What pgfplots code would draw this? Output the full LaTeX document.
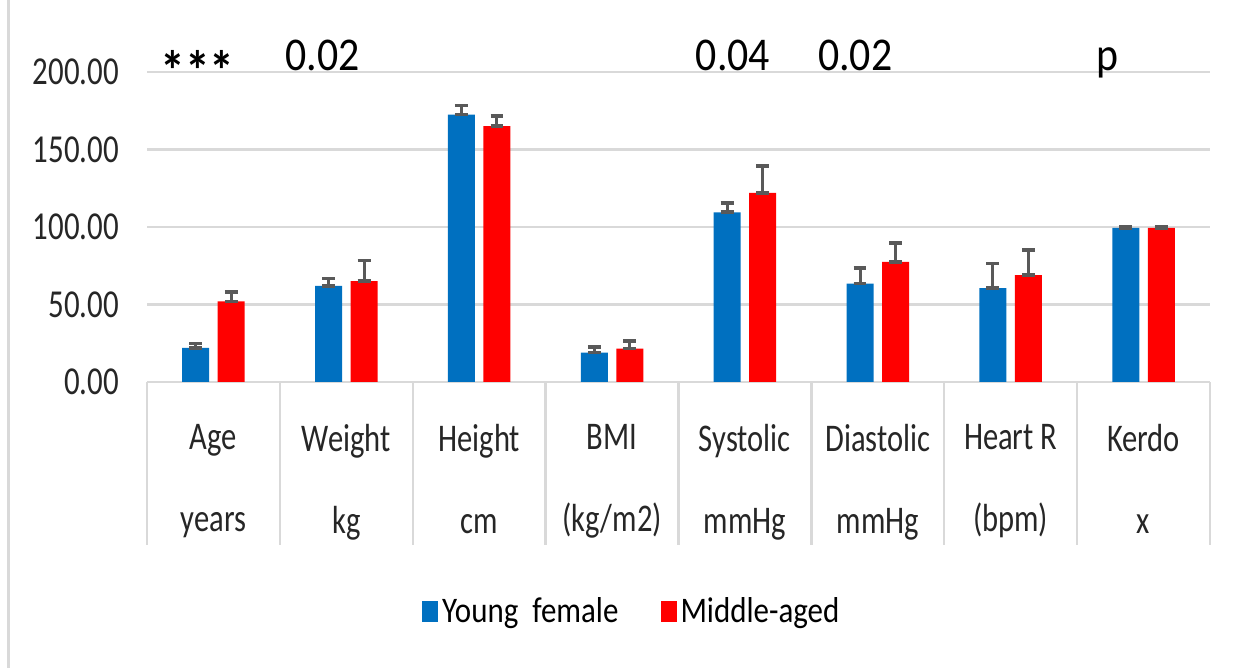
\documentclass[border=0pt]{standalone}
\usepackage{fontspec}
\setmainfont{Carlito}
\newfontfamily\narrowfont{Carlito}[FakeStretch=0.78]
\newfontfamily\legfont{Carlito}[FakeStretch=0.86]
\newfontfamily\notefont{Carlito}[FakeStretch=0.89]
\usepackage{pgfplots}
\pgfplotsset{compat=1.18}

\definecolor{youngblue}{HTML}{0070C0}
\definecolor{midred}{HTML}{FF0000}
\definecolor{errgray}{HTML}{595959}
\definecolor{gridgray}{HTML}{D9D9D9}
\definecolor{textgray}{HTML}{262626}

\begin{document}
\begin{tikzpicture}
\path[use as bounding box] (0,0) rectangle (622pt,334pt);
\draw[gridgray, line width=1.5pt] (4.4pt,0) -- (4.4pt,334pt);
\begin{axis}[
  at={(73.5pt,143pt)}, anchor=south west,
  scale only axis, width=531.5pt, height=155pt,
  ybar=4.3pt, bar width=13.5pt,
  xmin=-0.5, xmax=7.5, ymin=0, ymax=200,
  clip=false,
  axis line style={draw=none},
  tick pos=left,
  xtick={-0.5,0.5,1.5,2.5,3.5,4.5,5.5,6.5,7.5},
  x tick label as interval,
  xticklabels={Age\\[17pt]years, Weight\\[17pt]kg, Height\\[17pt]cm,
    BMI\\[17pt](kg/m2), Systolic\\[17pt]mmHg, Diastolic\\[17pt]mmHg,
    Heart R\\[17pt](bpm), Kerdo\\[17pt]x},
  xtick style={draw=gridgray, line width=1.2pt},
  xtick align=outside,
  major tick length=81.5pt,
  ytick={0,50,...,200},
  ytick style={draw=none},
  ymajorgrids,
  major grid style={gridgray, line width=1.2pt},
  yticklabel style={font=\narrowfont\fontsize{19.8pt}{24pt}\selectfont,
    text=textgray, xshift=-10.5pt},
  xticklabel style={font=\narrowfont\fontsize{19.6pt}{24pt}\selectfont,
    align=center, text=textgray, anchor=north, yshift=64pt},
  /pgf/number format/.cd, fixed, fixed zerofill, precision=2,
    assume math mode=true,
  /pgfplots/.cd,
  legend style={at={(0.457,-0.74)}, anchor=center, draw=none,
    legend columns=2, font=\legfont\fontsize{18pt}{22pt}\selectfont,
    /tikz/every even column/.append style={column sep=19pt}},
  legend image code/.code={\fill[#1] (-2pt,-5.25pt) rectangle (6pt,5.25pt);},
  error bars/error mark=|,
  error bars/error bar style={errgray, line width=1.5pt},
  error bars/error mark options={errgray, mark size=3.2pt, line width=1.8pt},
]
\addplot[fill=youngblue, draw=none,
  error bars/.cd, y dir=both, y explicit] coordinates {
  (0,22)    += (0,2.8)  -= (0,0)
  (1,62)    += (0,4.8)  -= (0,0)
  (2,172.5) += (0,6)    -= (0,0)
  (3,19)    += (0,3.5)  -= (0,0)
  (4,109.5) += (0,6)    -= (0,0)
  (5,63.5)  += (0,10)   -= (0,0)
  (6,60.5)  += (0,16)   -= (0,0)
  (7,99.5)  += (0,0.6)  -= (0,0)
};
\addplot[fill=midred, draw=none,
  error bars/.cd, y dir=both, y explicit] coordinates {
  (0,52)    += (0,6)    -= (0,0)
  (1,65)    += (0,13.5) -= (0,0)
  (2,165)   += (0,6.5)  -= (0,0)
  (3,21.5)  += (0,5)    -= (0,0)
  (4,122)   += (0,17.5) -= (0,0)
  (5,77.5)  += (0,12)   -= (0,0)
  (6,69)    += (0,16)   -= (0,0)
  (7,99.5)  += (0,0.6)  -= (0,0)
};
\legend{Young\ \ female, Middle-aged}

\node[anchor=base, font=\notefont\bfseries\fontsize{28pt}{34pt}\selectfont]
  at (axis cs:-0.12,201) {\raisebox{-0.36em}{***}};
\node[anchor=base, font=\notefont\fontsize{23.5pt}{28pt}\selectfont]
  at (axis cs:0.82,201) {0.02};
\node[anchor=base, font=\notefont\fontsize{23.5pt}{28pt}\selectfont]
  at (axis cs:3.91,201) {0.04};
\node[anchor=base, font=\notefont\fontsize{23.5pt}{28pt}\selectfont]
  at (axis cs:4.83,201) {0.02};
\node[anchor=base, font=\notefont\fontsize{23.5pt}{28pt}\selectfont]
  at (axis cs:6.73,201) {p};
\end{axis}
\end{tikzpicture}
\end{document}
